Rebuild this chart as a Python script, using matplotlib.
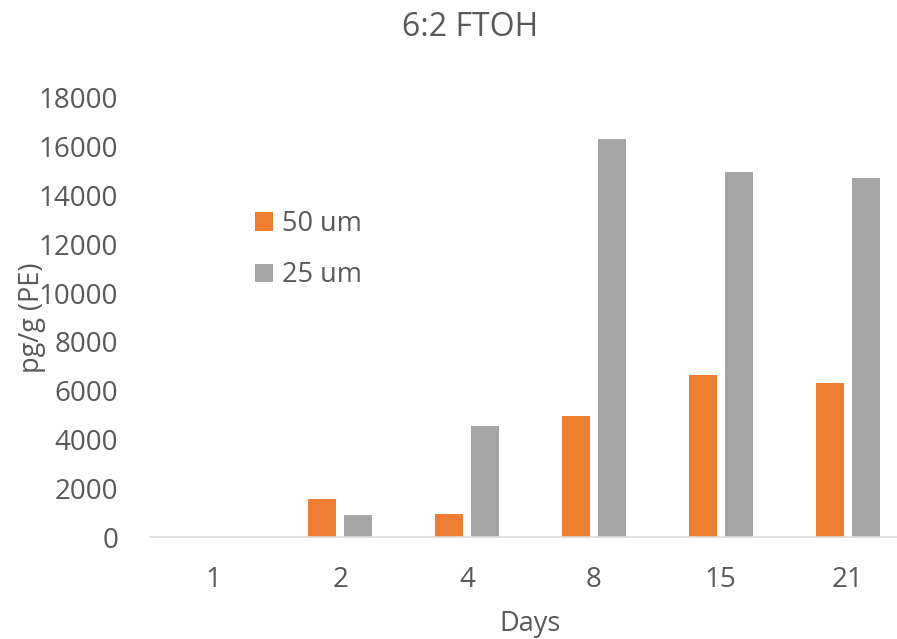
import numpy as np
import matplotlib
matplotlib.use("Agg")
import matplotlib.pyplot as plt

days = ["1", "2", "4", "8", "15", "21"]
um50 = [0, 1560, 940, 4950, 6630, 6300]
um25 = [0, 900, 4550, 16300, 14950, 14700]

plt.rcParams['font.family'] = ['Open Sans', 'DejaVu Sans']
txt = '#595959'

fig = plt.figure(figsize=(8.97, 6.39), dpi=100)
W, H = 897, 639
ax = fig.add_axes([150 / W, 1 - 537 / H, (911 - 150) / W, (537 - 98) / H])

x = np.arange(len(days))
bw = 28 / 127
gap = 8 / 127
ax.bar(x - (bw + gap) / 2, um50, bw, color='#ED7D31', label='50 um')
ax.bar(x + (bw + gap) / 2, um25, bw, color='#A5A5A5', label='25 um')

ax.set_xlim(-0.5, len(days) - 0.5)
ax.set_ylim(0, 18000)
ax.set_yticks(range(0, 18001, 2000))
ax.set_xticks(x)
ax.set_xticklabels(days)
ax.tick_params(axis='both', length=0, labelsize=20, colors=txt)
ax.tick_params(axis='x', pad=21)
ax.tick_params(axis='y', pad=23)
for s in ['top', 'right', 'left']:
    ax.spines[s].set_visible(False)
ax.spines['bottom'].set_color('#D9D9D9')
ax.spines['bottom'].set_linewidth(1.2)

# axis titles and chart title placed in figure pixels
fig.text(530 / W, 1 - 624 / H, 'Days', fontsize=19.5, color=txt, ha='center', va='center')
fig.text(32 / W, 1 - 318 / H, 'pg/g (PE)', fontsize=19.5, color=txt, ha='center', va='center',
         rotation=90)
fig.text(470 / W, 1 - 28 / H, '6:2 FTOH', fontsize=23, color=txt, ha='center', va='center')

leg = ax.legend(loc='upper left', bbox_to_anchor=((255 - 150) / 761, (537 - 210) / 439),
                frameon=False, fontsize=19.5, handlelength=0.65, handleheight=0.65,
                handletextpad=0.35, labelspacing=0.86, borderaxespad=0, borderpad=0)
for t in leg.get_texts():
    t.set_color(txt)

fig.savefig('out.png', dpi=100)
